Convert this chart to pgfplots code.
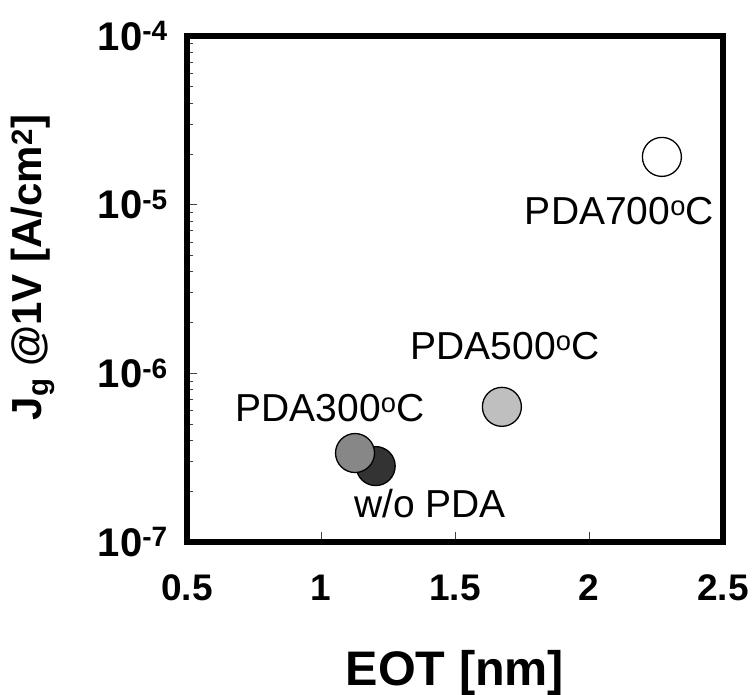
\documentclass[border=0pt]{standalone}
\usepackage{fontspec}
\setmainfont{Liberation Sans}
\usepackage{pgfplots}
\pgfplotsset{compat=1.18}
\begin{document}
\begin{tikzpicture}
\useasboundingbox (-187pt,-152pt) rectangle (568pt,542pt);
\begin{axis}[
  at={(0,0)}, anchor=south west,
  scale only axis, width=536pt, height=506pt,
  xmin=0.5, xmax=2.5, ymin=1e-7, ymax=1e-4, ymode=log,
  axis line style={line width=5.5pt},
  tick align=inside,
  xtick pos=bottom, ytick pos=left,
  major tick length=10pt, minor tick length=6pt,
  tick style={line width=0.8pt, color=black!75},
  xtick={0.5,1,1.5,2,2.5},
  xticklabels={0.5,1,1.5,2,2.5},
  minor xtick={},
  ytick={1e-7,1e-6,1e-5,1e-4},
  yticklabels={10\textsuperscript{-7},10\textsuperscript{-6},10\textsuperscript{-5},10\textsuperscript{-4}},
  minor ytick={2e-7,3e-7,4e-7,5e-7,6e-7,7e-7,8e-7,9e-7,2e-6,3e-6,4e-6,5e-6,6e-6,7e-6,8e-6,9e-6,2e-5,3e-5,4e-5,5e-5,6e-5,7e-5,8e-5,9e-5},
  xticklabel style={font=\bfseries\fontsize{37}{40}\selectfont, anchor=base, inner sep=0pt, yshift=-58pt},
  yticklabel style={font=\bfseries\fontsize{40}{44}\selectfont, anchor=base east, inner sep=0pt, xshift=-19pt, yshift=-14pt},
  xlabel={EOT [nm]},
  ylabel={J\textsubscript{g} @1V [A/cm\textsuperscript{2}]},
  xlabel style={font=\bfseries\fontsize{48.5}{52}\selectfont, at={(axis description cs:0.5,-0.2826)}, anchor=base, inner sep=0pt},
  ylabel style={font=\bfseries\fontsize{42}{46}\selectfont, at={(axis description cs:-0.2873,0.5425)}, anchor=center, inner sep=0pt},
  clip=false,
]
\addplot[only marks, mark=*, mark size=19.5pt, mark options={fill=black!80, draw=black, line width=1.3pt}] coordinates {(1.204,2.82e-7)};
\addplot[only marks, mark=*, mark size=19.5pt, mark options={fill=black!47, draw=black, line width=1.3pt}] coordinates {(1.127,3.37e-7)};
\addplot[only marks, mark=*, mark size=19.5pt, mark options={fill=black!25, draw=black, line width=1.3pt}] coordinates {(1.675,6.33e-7)};
\addplot[only marks, mark=*, mark size=19.5pt, mark options={fill=white, draw=black, line width=1.3pt}] coordinates {(2.272,1.92e-5)};
\node[anchor=base, font=\fontsize{39}{42}\selectfont, inner sep=0pt] at (axis cs:1.407,1.39e-7) {w/o PDA};
\node[anchor=base, font=\fontsize{39}{42}\selectfont, inner sep=0pt] at (axis cs:1.034,5.15e-7) {PDA300\textsuperscript{o}C};
\node[anchor=base, font=\fontsize{39}{42}\selectfont, inner sep=0pt] at (axis cs:1.687,1.2e-6) {PDA500\textsuperscript{o}C};
\node[anchor=base, font=\fontsize{39}{42}\selectfont, inner sep=0pt] at (axis cs:2.114,7.58e-6) {PDA700\textsuperscript{o}C};
\end{axis}
\end{tikzpicture}
\end{document}
